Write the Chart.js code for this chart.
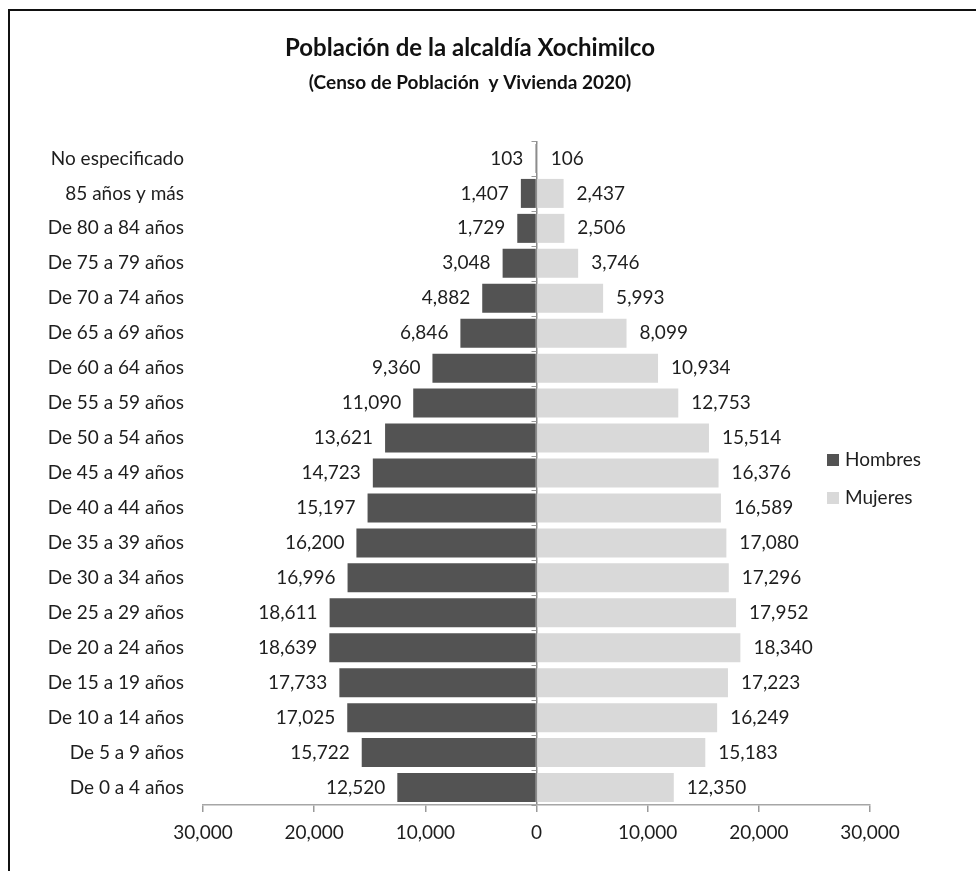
<!DOCTYPE html>
<html>
<head>
<meta charset="utf-8">
<script src="https://cdn.jsdelivr.net/npm/chart.js@4/dist/chart.umd.min.js"></script>
<style>
  html, body { margin: 0; padding: 0; background: #fff; }
  #wrap { position: relative; width: 976px; height: 871px; overflow: hidden; }
  #frame { position: absolute; left: 8px; top: 9px; width: 1000px; height: 900px; border: 2px solid #111; box-sizing: border-box; }
  #c { position: absolute; left: 0; top: 0; }
</style>
</head>
<body>
<div id="wrap">
  <div id="frame"></div>
  <canvas id="c" width="976" height="871"></canvas>
</div>
<script>
const titleText = 'Población de la alcaldía Xochimilco';
const subtitleText = '(Censo de Población  y Vivienda 2020)';
const categories = ['No especificado', '85 años y más', 'De 80 a 84 años', 'De 75 a 79 años', 'De 70 a 74 años',
  'De 65 a 69 años', 'De 60 a 64 años', 'De 55 a 59 años', 'De 50 a 54 años', 'De 45 a 49 años',
  'De 40 a 44 años', 'De 35 a 39 años', 'De 30 a 34 años', 'De 25 a 29 años', 'De 20 a 24 años',
  'De 15 a 19 años', 'De 10 a 14 años', 'De 5 a 9 años', 'De 0 a 4 años'];
const hombres = [103, 1407, 1729, 3048, 4882, 6846, 9360, 11090, 13621, 14723, 15197, 16200, 16996, 18611, 18639, 17733, 17025, 15722, 12520];
const mujeres = [106, 2437, 2506, 3746, 5993, 8099, 10934, 12753, 15514, 16376, 16589, 17080, 17296, 17952, 18340, 17223, 16249, 15183, 12350];
const xTicks = [-30000, -20000, -10000, 0, 10000, 20000, 30000];

const FONT = 'Lato, "Open Sans", sans-serif';
const TXT = '#1e1e1e';
const fmt = v => Math.abs(v).toLocaleString('en-US');

const decor = {
  id: 'decor',
  afterDatasetsDraw(chart) {
    const ctx = chart.ctx;
    const xs = chart.scales.x, ys = chart.scales.y;
    const x0 = xs.getPixelForValue(0);
    ctx.save();
    // small tick marks on the zero axis at category boundaries
    ctx.strokeStyle = '#999';
    ctx.lineWidth = 1;
    for (let i = 0; i <= categories.length; i++) {
      const y = Math.round(ys.getPixelForValue(i - 0.5)) + 0.5;
      ctx.beginPath(); ctx.moveTo(x0 - 5, y); ctx.lineTo(x0, y); ctx.stroke();
    }
    // data labels
    ctx.font = '19px ' + FONT;
    ctx.fillStyle = TXT;
    ctx.textBaseline = 'middle';
    chart.data.datasets.forEach((ds, di) => {
      const meta = chart.getDatasetMeta(di);
      meta.data.forEach((el, i) => {
        const v = ds.data[i];
        if (v < 0) { ctx.textAlign = 'right'; ctx.fillText(fmt(v), el.x - 12, el.y); }
        else { ctx.textAlign = 'left'; ctx.fillText(fmt(v), el.x + 13, el.y); }
      });
    });
    // titles
    ctx.textAlign = 'center';
    ctx.fillStyle = '#111';
    ctx.font = 'bold 24px ' + FONT;
    ctx.fillText(titleText, 470, 48);
    ctx.font = 'bold 19px ' + FONT;
    ctx.fillText(subtitleText, 470, 83);
    // legend
    ctx.textAlign = 'left';
    ctx.font = '19px ' + FONT;
    chart.data.datasets.forEach((ds, di) => {
      const y = 460 + di * 38;
      ctx.fillStyle = ds.backgroundColor;
      ctx.fillRect(827, y - 6, 12, 12);
      ctx.fillStyle = TXT;
      ctx.fillText(ds.label, 845, y);
    });
    ctx.restore();
  }
};

new Chart(document.getElementById('c'), {
  type: 'bar',
  data: {
    labels: categories,
    datasets: [
      { label: 'Hombres', data: hombres.map(v => -v), backgroundColor: '#535353', borderWidth: 0, barPercentage: 0.83, categoryPercentage: 1 },
      { label: 'Mujeres', data: mujeres, backgroundColor: '#d9d9d9', borderWidth: 0, barPercentage: 0.83, categoryPercentage: 1 }
    ]
  },
  options: {
    indexAxis: 'y',
    responsive: false,
    animation: false,
    layout: { padding: { top: 141, right: 106, left: 0, bottom: 0 } },
    plugins: { legend: { display: false }, title: { display: false }, tooltip: { enabled: false } },
    scales: {
      x: {
        stacked: true,
        min: -30000, max: 30000,
        afterBuildTicks: s => { s.ticks = xTicks.map(v => ({ value: v })); },
        afterFit: s => { s.height = 66; },
        ticks: { callback: v => fmt(v), color: TXT, font: { family: FONT, size: 19 }, padding: 9, maxRotation: 0 },
        grid: {
          drawOnChartArea: true,
          color: c => (c.tick && c.tick.value === 0) ? '#8c8c8c' : 'rgba(0,0,0,0)',
          tickColor: '#9a9a9a', tickLength: 7, lineWidth: 1.5
        },
        border: { display: true, color: '#a6a6a6', width: 1.5 }
      },
      y: {
        stacked: true,
        afterFit: s => { s.width = 203; },
        ticks: { color: TXT, font: { family: FONT, size: 19 }, padding: 19 },
        grid: { display: false, drawTicks: false },
        border: { display: false }
      }
    }
  },
  plugins: [decor]
});
</script>
</body>
</html>
